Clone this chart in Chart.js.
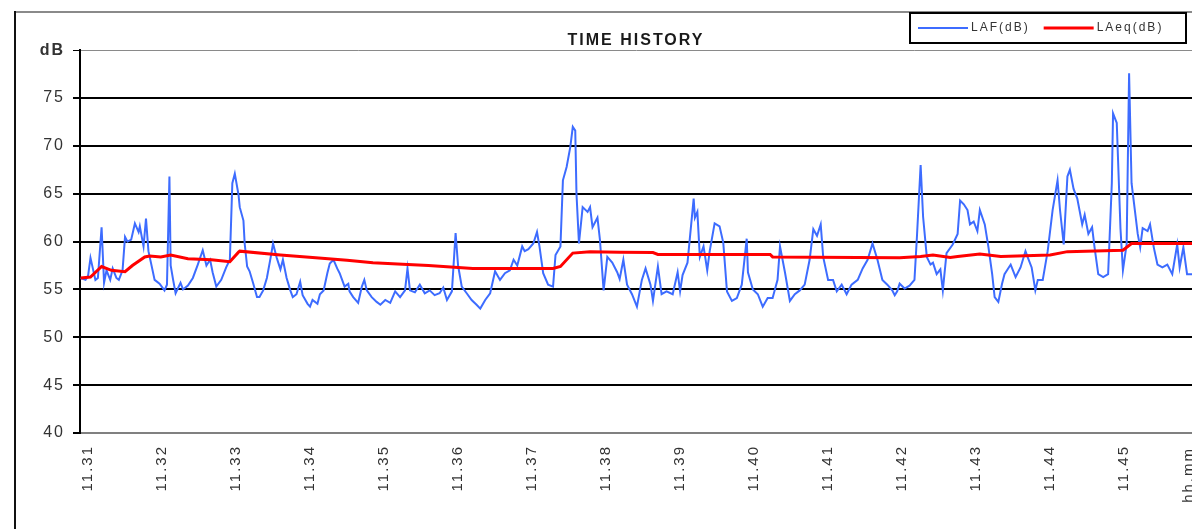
<!DOCTYPE html>
<html>
<head>
<meta charset="utf-8">
<title>Time history</title>
<script src="https://cdn.jsdelivr.net/npm/chart.js@4.4.1/dist/chart.umd.min.js"></script>
<style>
  html, body { margin: 0; padding: 0; background: #fff; overflow: hidden; }
  #wrap { position: relative; width: 1192px; height: 529px; }
</style>
</head>
<body>
<div id="wrap"><canvas id="chart"></canvas></div>
<script>
// LAF samples: seconds after 11:31:00 and fast-weighted level (dB)
const lafSeconds = [
  -6, -2, 0, 2, 6, 8, 11, 13, 15, 18, 20, 23, 25, 28, 30, 32, 35, 38, 41, 42,
  45, 47, 49, 51, 54, 58, 62, 64, 66, 67, 69, 71, 75, 77, 81, 85, 89, 93, 96, 99,
  101, 104, 108, 112, 115, 117, 119, 122, 123, 126, 127, 129, 131, 134, 137, 139, 142, 145, 148, 150,
  153, 156, 158, 161, 164, 166, 169, 172, 174, 178, 180, 182, 186, 188, 191, 194, 196, 199, 202, 204,
  208, 211, 212, 215, 219, 222, 224, 226, 230, 234, 237, 241, 245, 249, 253, 257, 259, 261, 265, 269,
  273, 277, 281, 285, 288, 291, 295, 298, 300, 303, 307, 311, 315, 318, 322, 326, 330, 334, 338, 342,
  345, 348, 352, 354, 357, 361, 364, 366, 369, 373, 377, 379, 383, 385, 388, 391, 393, 395, 396, 398,
  401, 405, 407, 409, 413, 415, 418, 421, 425, 429, 431, 434, 437, 441, 445, 449, 452, 456, 458, 462,
  465, 469, 474, 478, 480, 482, 486, 491, 492, 494, 496, 499, 502, 504, 508, 512, 515, 518, 522, 526,
  530, 534, 535, 539, 543, 547, 551, 555, 559, 561, 565, 569, 573, 577, 581, 585, 588, 591, 594, 596,
  600, 604, 607, 611, 615, 619, 624, 628, 632, 636, 640, 644, 648, 652, 654, 656, 658, 662, 666, 670,
  672, 675, 677, 680, 683, 685, 688, 691, 693, 696, 701, 705, 707, 710, 713, 715, 718, 721, 723, 727,
  730, 733, 735, 738, 741, 743, 748, 752, 756, 760, 762, 765, 768, 770, 774, 778, 782, 786, 788, 791,
  794, 796, 799, 802, 806, 808, 811, 814, 816, 819, 823, 827, 830, 831, 834, 837, 839, 842, 844, 846,
  851, 853, 855, 859, 861, 864, 867, 871, 875, 879, 883, 885, 888, 891, 895, 900
];
const lafLevels = [
  56.2, 56.0, 56.4, 58.3, 56.0, 56.2, 61.5, 55.7, 57.0, 56.0, 57.2, 56.2, 56.0, 57.0, 60.5, 60.0, 60.2, 61.9, 61.0, 61.6,
  59.5, 62.4, 59.0, 57.8, 56.0, 55.6, 54.9, 55.5, 66.8, 57.5, 56.0, 54.6, 55.7, 55.0, 55.4, 56.2, 57.6, 59.1, 57.5, 58.1,
  56.8, 55.3, 56.0, 57.3, 58.1, 66.1, 67.1, 64.9, 63.6, 62.2, 59.8, 57.4, 56.9, 55.6, 54.2, 54.2, 54.9, 56.2, 58.3, 59.8,
  58.3, 57.1, 58.1, 56.2, 54.9, 54.2, 54.5, 55.8, 54.4, 53.5, 53.2, 53.9, 53.5, 54.5, 54.9, 56.7, 57.7, 58.1, 57.2, 56.7,
  55.3, 55.6, 54.8, 54.2, 53.6, 55.3, 56.0, 54.9, 54.2, 53.7, 53.4, 53.9, 53.6, 54.8, 54.2, 54.9, 57.2, 54.9, 54.7, 55.5,
  54.6, 54.9, 54.4, 54.6, 55.2, 53.9, 54.8, 60.9, 57.5, 55.3, 54.6, 53.9, 53.4, 53.0, 53.9, 54.6, 56.9, 56.0, 56.7, 57.0,
  58.1, 57.5, 59.5, 59.0, 59.2, 59.8, 61.0, 59.5, 56.7, 55.5, 55.3, 58.6, 59.5, 66.4, 67.8, 69.9, 72.0, 71.6, 65.0, 59.8,
  63.6, 63.1, 63.6, 61.5, 62.5, 60.2, 54.9, 58.4, 57.8, 56.8, 56.1, 58.1, 55.5, 54.5, 53.2, 56.0, 57.2, 55.5, 53.8, 57.4,
  54.5, 54.8, 54.5, 56.8, 54.8, 56.5, 57.8, 64.5, 62.5, 63.1, 58.4, 59.5, 57.0, 59.0, 61.9, 61.6, 59.9, 54.8, 53.8, 54.1,
  55.5, 60.3, 56.8, 55.0, 54.5, 53.2, 54.1, 54.1, 56.0, 59.5, 56.8, 53.8, 54.5, 54.9, 55.5, 58.1, 61.3, 60.6, 61.8, 58.4,
  56.0, 56.0, 54.8, 55.5, 54.5, 55.5, 56.0, 57.2, 58.1, 59.8, 58.1, 56.0, 55.5, 54.9, 54.4, 54.8, 55.6, 55.1, 55.4, 56.0,
  60.5, 68.0, 62.6, 58.4, 57.6, 57.8, 56.6, 57.1, 54.9, 58.8, 59.7, 60.8, 64.3, 63.9, 63.3, 61.8, 62.1, 61.1, 63.3, 61.8,
  59.4, 56.6, 54.2, 53.7, 55.6, 56.6, 57.6, 56.3, 57.3, 59.0, 58.3, 57.3, 54.9, 56.0, 56.0, 59.0, 63.3, 66.4, 63.3, 59.7,
  66.8, 67.5, 65.5, 64.5, 61.8, 62.8, 60.8, 61.5, 59.4, 56.6, 56.3, 56.6, 66.1, 73.4, 72.4, 61.4, 57.0, 59.7, 77.6, 66.1,
  60.8, 59.4, 61.4, 61.1, 61.8, 59.4, 57.6, 57.3, 57.6, 56.6, 59.7, 57.3, 59.4, 56.6, 56.6, 56.0
];

// LAeq running average: seconds after 11:31:00 and level (dB)
const laeqSeconds = [
  -6, 2, 11, 19, 30, 36, 46, 50, 59, 67, 81, 100, 115, 122, 123, 156, 182, 210, 231, 251,
  276, 312, 377, 383, 393, 407, 431, 458, 462, 553, 555, 658, 675, 685, 699, 705, 723, 740, 780, 794,
  839, 846, 900
];
const laeqLevels = [
  56.2, 56.3, 57.4, 57.0, 56.85, 57.5, 58.4, 58.5, 58.4, 58.6, 58.2, 58.1, 57.9, 58.9, 59.0, 58.6, 58.35, 58.05, 57.8, 57.65,
  57.5, 57.2, 57.2, 57.4, 58.8, 58.95, 58.9, 58.85, 58.65, 58.65, 58.4, 58.3, 58.45, 58.6, 58.35, 58.45, 58.7, 58.45, 58.6, 58.95,
  59.1, 59.8, 59.8
];

// one label per minute on the time axis
const minuteLabels = [
  '11.31', '11.32', '11.33', '11.34', '11.35', '11.36', '11.37', '11.38',
  '11.39', '11.40', '11.41', '11.42', '11.43', '11.44', '11.45'
];
const timeUnitLabel = 'hh.mm';
const levelUnitLabel = 'dB';
const chartTitle = 'TIME HISTORY';

const toPoints = (xs, ys) => xs.map((x, i) => ({ x: x, y: ys[i] }));

const FONT = "'Liberation Sans', Arial, sans-serif";

// frame, boxed legend and axis unit drawn around the plot
const decorations = {
  id: 'decorations',
  beforeLayout(chart) { chart.ctx.letterSpacing = '2px'; },
  beforeDraw(chart) {
    const ctx = chart.ctx;
    ctx.letterSpacing = '2px';
    ctx.save();
    ctx.fillStyle = '#fff';
    ctx.fillRect(0, 0, chart.width, chart.height);
    ctx.restore();
  },
  afterDraw(chart) {
    const ctx = chart.ctx;
    ctx.save();
    // outer frame
    ctx.strokeStyle = '#8a8a8a';
    ctx.lineWidth = 2;
    ctx.beginPath();
    ctx.moveTo(14, 12); ctx.lineTo(chart.width, 12);
    ctx.stroke();
    ctx.strokeStyle = '#111';
    ctx.beginPath();
    ctx.moveTo(15, 11); ctx.lineTo(15, chart.height);
    ctx.stroke();

    // legend box
    const bx = 910, by = 13, bw = 276, bh = 30;
    ctx.fillStyle = '#fff';
    ctx.fillRect(bx, by, bw, bh);
    ctx.strokeStyle = '#000';
    ctx.lineWidth = 2;
    ctx.strokeRect(bx, by, bw, bh);
    ctx.font = '12px ' + FONT;
    ctx.textBaseline = 'middle';
    let x = bx + 8;
    const cy = by + bh / 2;
    chart.data.datasets.forEach(ds => {
      ctx.strokeStyle = ds.borderColor;
      ctx.lineWidth = ds.borderWidth;
      ctx.beginPath();
      ctx.moveTo(x, cy); ctx.lineTo(x + 50, cy);
      ctx.stroke();
      ctx.fillStyle = '#333';
      ctx.fillText(ds.label, x + 53, cy);
      x += 53 + ctx.measureText(ds.label).width + 14;
    });

    // unit at the end of the time axis
    const xs = chart.scales.x;
    ctx.translate(chart.width - 3, xs.top + 14);
    ctx.rotate(-Math.PI / 2);
    ctx.font = '15px ' + FONT;
    ctx.textAlign = 'right';
    ctx.textBaseline = 'middle';
    ctx.fillStyle = '#333';
    ctx.fillText(timeUnitLabel, 0, 0);
    ctx.restore();
  }
};

new Chart(document.getElementById('chart'), {
  type: 'line',
  data: {
    datasets: [
      {
        label: 'LAF(dB)',
        data: toPoints(lafSeconds, lafLevels),
        borderColor: '#3d6cff',
        borderWidth: 2,
        pointRadius: 0,
        tension: 0,
        order: 1
      },
      {
        label: 'LAeq(dB)',
        data: toPoints(laeqSeconds, laeqLevels),
        borderColor: '#ff0000',
        borderWidth: 3,
        pointRadius: 0,
        tension: 0,
        order: 0
      }
    ]
  },
  options: {
    responsive: true,
    maintainAspectRatio: false,
    animation: false,
    layout: { padding: { top: 0, left: 0, right: 0, bottom: 0 } },
    plugins: {
      legend: { display: false },
      tooltip: { enabled: false },
      title: {
        display: true,
        text: chartTitle,
        fullSize: false,
        color: '#1a1a1a',
        font: { family: FONT, size: 16, weight: 'bold' },
        padding: { top: 31, bottom: 0 }
      }
    },
    scales: {
      x: {
        type: 'linear',
        min: -6.5,
        max: 895,
        grid: { display: false, drawTicks: false, tickLength: 0 },
        border: { display: true, color: '#808080', width: 2 },
        ticks: {
          autoSkip: false,
          minRotation: 90,
          maxRotation: 90,
          padding: 12,
          color: '#333',
          font: { family: FONT, size: 15 },
          callback: v => minuteLabels[Math.round(v / 60)]
        },
        afterBuildTicks: scale => {
          scale.ticks = minuteLabels.map((_, i) => ({ value: i * 60 }));
        },
        afterFit: scale => {
          scale.height = 96;
          scale.paddingLeft = 0;
          scale.paddingRight = 0;
        }
      },
      y: {
        min: 40,
        max: 80,
        grid: {
          color: c => (c.tick && (c.tick.value === 40 || c.tick.value === 80)) ? '#8a8a8a' : '#000',
          lineWidth: c => (c.tick && c.tick.value === 80) ? 1 : 2,
          tickColor: '#000',
          tickLength: 7,
          drawTicks: true
        },
        border: { display: true, color: '#000', width: 2 },
        ticks: {
          stepSize: 5,
          padding: 8,
          color: '#333',
          font: c => ({ family: FONT, size: 16, weight: (c.tick && c.tick.value === 80) ? 'bold' : 'normal' }),
          callback: v => v === 80 ? levelUnitLabel : v
        },
        afterFit: scale => {
          scale.width = 80;
          scale.paddingTop = 0;
          scale.paddingBottom = 0;
        }
      }
    }
  },
  plugins: [decorations]
});
</script>
</body>
</html>
